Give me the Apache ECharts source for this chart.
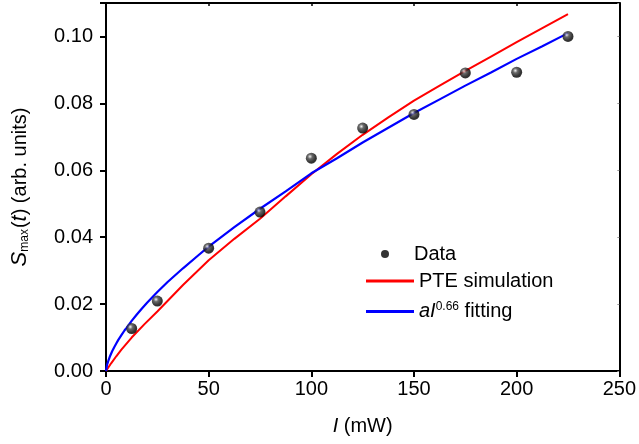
<!DOCTYPE html>
<html>
<head>
<meta charset="utf-8">
<script src="https://cdn.jsdelivr.net/npm/echarts@6/dist/echarts.min.js"></script>
<style>html,body{margin:0;padding:0;background:#fff}#c{width:639px;height:444px}</style>
</head>
<body>
<div id="c"></div>
<script>
// Measured data
var dataX = [12.5, 25, 50, 75, 100, 125, 150, 175, 200, 225];
var dataY = [0.0127, 0.0209, 0.0367, 0.0475, 0.0636, 0.0726, 0.0767, 0.0891, 0.0893, 0.1000];
// PTE simulation curve
var pteX = [0, 2.5, 5, 7.5, 12.5, 18.75, 25, 37.5, 50, 62.5, 75, 87.5, 100, 112.5, 125, 137.5, 150, 162.5, 175, 187.5, 200, 212.5, 225];
var pteY = [0, 0.0023, 0.0044, 0.0064, 0.0100, 0.0140, 0.0178, 0.0257, 0.0331, 0.0395, 0.0455, 0.0522, 0.0588, 0.0649, 0.0706, 0.0758, 0.0808, 0.0853, 0.0897, 0.0940, 0.0983, 0.1025, 0.1067];
// aI^0.66 fitting curve
var fitX = [0, 0.5, 1, 2, 3, 4, 5, 6, 7.5, 9, 10, 12.5, 15, 17.5, 20, 25, 30, 37.5, 45, 50, 62.5, 75, 87.5, 100, 112.5, 125, 137.5, 150, 162.5, 175, 187.5, 200, 212.5, 225];
var fitY = [0, 0.0018, 0.0028, 0.0045, 0.0059, 0.0071, 0.0082, 0.0093, 0.0107, 0.0121, 0.0129, 0.0150, 0.0169, 0.0187, 0.0204, 0.0236, 0.0266, 0.0307, 0.0346, 0.0372, 0.0430, 0.0485, 0.0537, 0.0591, 0.0636, 0.0683, 0.0727, 0.0771, 0.0812, 0.0853, 0.0892, 0.0933, 0.0971, 0.1010];
var xTicks = [0, 50, 100, 150, 200, 250];
var yTicks = [0.00, 0.02, 0.04, 0.06, 0.08, 0.10];

function zip(a, b) { return a.map(function (v, i) { return [v, b[i]]; }); }

var font = 'Liberation Sans, Arial, sans-serif';
var FS = 20;
var chart = echarts.init(document.getElementById('c'), null, {renderer: 'canvas'});
var axisLine = {show: true, onZero: false, lineStyle: {color: '#000', width: 2}};
chart.setOption({
  animation: false,
  backgroundColor: '#fff',
  grid: {left: 106, right: 19, top: 3, bottom: 73, containLabel: false},
  xAxis: [{
    type: 'value', min: 0, max: 250, interval: 50,
    axisLine: axisLine,
    axisTick: {show: true, length: 6, inside: false, lineStyle: {color: '#000', width: 2}},
    axisLabel: {color: '#000', fontSize: FS, fontFamily: font, margin: 8,
      formatter: function (v) { return xTicks.indexOf(v) >= 0 ? String(v) : ''; }},
    splitLine: {show: false},
    name: '{i|I} (mW)', nameLocation: 'middle', nameGap: 45,
    nameTextStyle: {color: '#000', fontSize: FS, fontFamily: font,
      rich: {i: {fontStyle: 'italic', fontSize: FS, fontFamily: font, color: '#000'}}}
  }, {
    type: 'value', position: 'top', min: 0, max: 250, interval: 50,
    axisLine: axisLine,
    axisTick: {show: true, inside: true, length: 3, lineStyle: {color: '#000', width: 1.5}},
    axisLabel: {show: false}, splitLine: {show: false}
  }],
  yAxis: [{
    type: 'value', min: 0, max: 0.11, interval: 0.02,
    axisLine: axisLine,
    axisTick: {show: true, length: 6, inside: false, lineStyle: {color: '#000', width: 2}},
    axisLabel: {color: '#000', fontSize: FS, fontFamily: font, margin: 13,
      formatter: function (v) {
        for (var i = 0; i < yTicks.length; i++) if (Math.abs(yTicks[i] - v) < 1e-9) return yTicks[i].toFixed(2);
        return '';
      }},
    splitLine: {show: false},
    name: '{i|S}{sub|max}({i|t}) (arb. units)', nameLocation: 'middle', nameGap: 75, nameRotate: 90,
    nameTextStyle: {color: '#000', fontSize: FS, fontFamily: font,
      rich: {
        i: {fontStyle: 'italic', fontSize: FS + 2, fontFamily: font, color: '#000'},
        sub: {fontSize: 12, fontFamily: font, color: '#000', verticalAlign: 'bottom', padding: [7, 1, 0, 0]}
      }}
  }, {
    type: 'value', position: 'right', min: 0, max: 0.11, interval: 0.02,
    axisLine: axisLine,
    axisTick: {show: true, inside: true, length: 2, lineStyle: {color: '#999', width: 1}},
    axisLabel: {show: false}, splitLine: {show: false}
  }],
  legend: [{
    orient: 'vertical', left: 376, top: 239, itemWidth: 48, itemHeight: 8, itemGap: 7,
    textStyle: {color: '#000', fontSize: FS, fontFamily: font},
    data: [{name: 'Data', icon: 'circle', itemStyle: {color: '#000'}}]
  }, {
    orient: 'vertical', left: 361, top: 266, itemWidth: 48, itemHeight: 3, itemGap: 10,
    textStyle: {color: '#000', fontSize: FS, fontFamily: font,
      rich: {
        i: {fontStyle: 'italic', fontSize: FS, fontFamily: font, color: '#000'},
        sup: {fontSize: 12, fontFamily: font, color: '#000', verticalAlign: 'top', padding: [0, 0, 9, 0]},
        n: {fontSize: FS, fontFamily: font, color: '#000'}
      }},
    formatter: function (name) {
      if (name === 'fit') return '{i|aI}{sup|0.66}{n| fitting}';
      return name;
    },
    data: [
      {name: 'PTE simulation', icon: 'rect', itemStyle: {color: '#ff0000'}},
      {name: 'fit', icon: 'rect', itemStyle: {color: '#0000ff'}}
    ]
  }],
  series: [
    {
      name: 'PTE simulation', type: 'line', data: zip(pteX, pteY), smooth: false,
      symbol: 'none', showSymbol: false, z: 2,
      lineStyle: {color: '#ff0000', width: 2}, itemStyle: {color: '#ff0000'}
    },
    {
      name: 'fit', type: 'line', data: zip(fitX, fitY), smooth: false,
      symbol: 'none', showSymbol: false, z: 3,
      lineStyle: {color: '#0000ff', width: 2.2}, itemStyle: {color: '#0000ff'}
    },
    {
      name: 'Data', type: 'scatter', data: zip(dataX, dataY), symbol: 'circle', symbolSize: 11, z: 5,
      itemStyle: {
        color: {type: 'radial', x: 0.38, y: 0.35, r: 0.7,
          colorStops: [{offset: 0, color: '#f0f0f0'}, {offset: 0.3, color: '#444'}, {offset: 0.75, color: '#000'}, {offset: 1, color: '#000'}]}
      }
    }
  ]
});
</script>
</body>
</html>
